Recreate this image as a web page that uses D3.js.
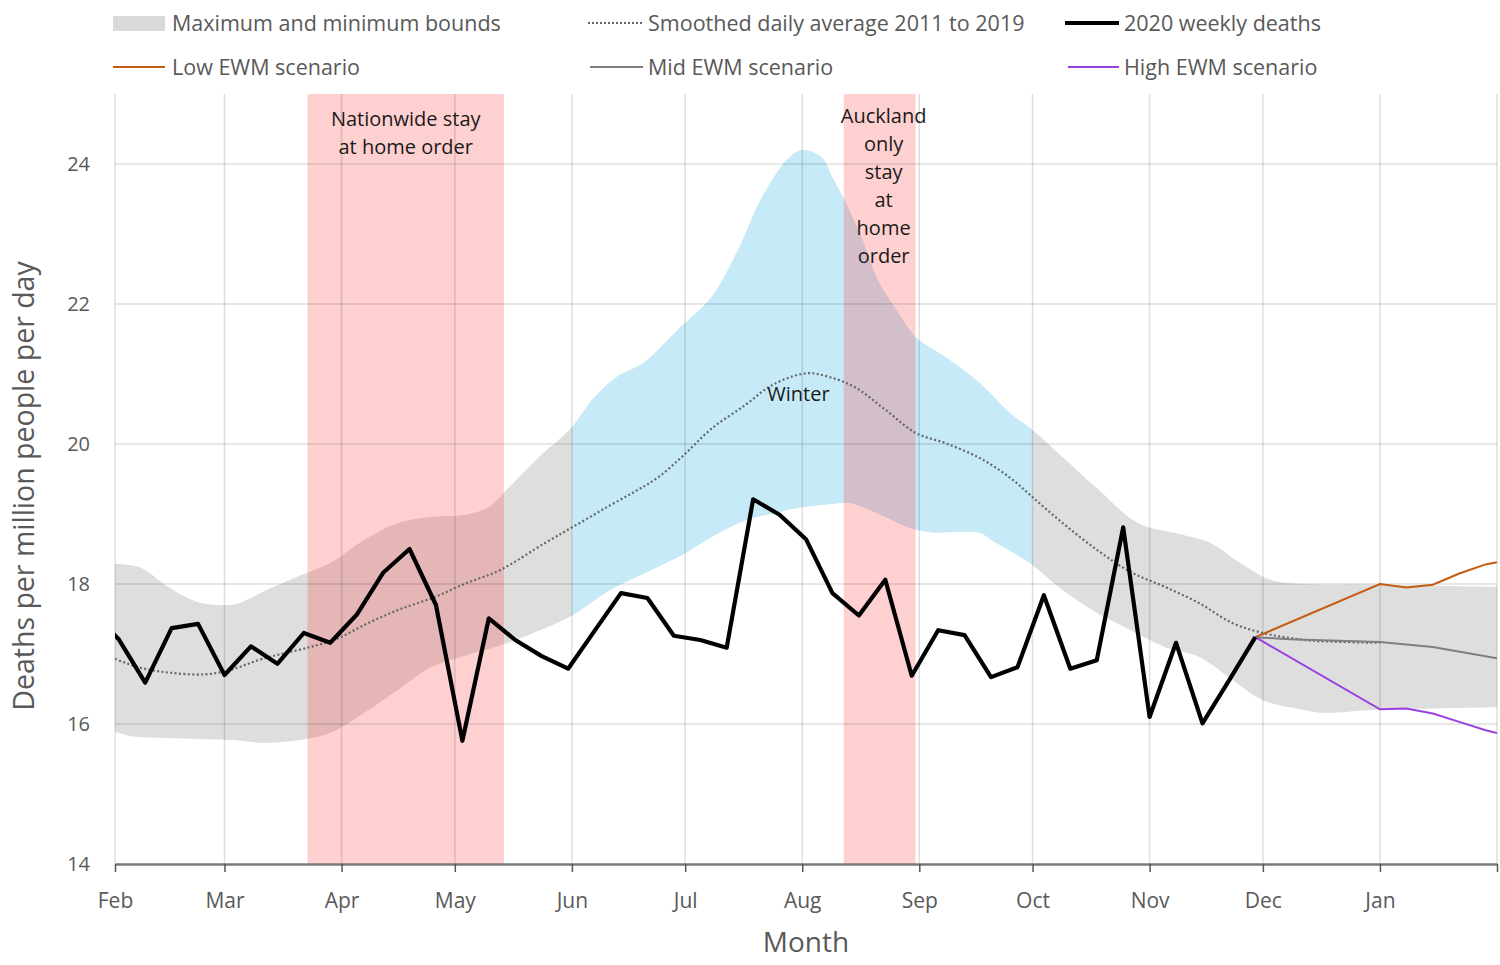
<!DOCTYPE html>
<html>
<head>
<meta charset="utf-8">
<script src="https://cdn.jsdelivr.net/npm/d3@7"></script>
<style>
  body { margin: 0; background: #fff; }
  svg text { font-family: "Open Sans", sans-serif; }
</style>
</head>
<body>
<svg id="chart" width="1500" height="965"></svg>
<script>
// ---- data ----
var monthLabels = ["Feb", "Mar", "Apr", "May", "Jun", "Jul", "Aug", "Sep", "Oct", "Nov", "Dec", "Jan", ""];
var yTicks = [14, 16, 18, 20, 22, 24];

// 2020 weekly deaths (per million people per day), week ending Sunday
var weekDates = ["2020-01-26", "2020-02-02", "2020-02-09", "2020-02-16", "2020-02-23", "2020-03-01", "2020-03-08",
  "2020-03-15", "2020-03-22", "2020-03-29", "2020-04-05", "2020-04-12", "2020-04-19", "2020-04-26", "2020-05-03",
  "2020-05-10", "2020-05-17", "2020-05-24", "2020-05-31", "2020-06-07", "2020-06-14", "2020-06-21", "2020-06-28",
  "2020-07-05", "2020-07-12", "2020-07-19", "2020-07-26", "2020-08-02", "2020-08-09", "2020-08-16", "2020-08-23",
  "2020-08-30", "2020-09-06", "2020-09-13", "2020-09-20", "2020-09-27", "2020-10-04", "2020-10-11", "2020-10-18",
  "2020-10-25", "2020-11-01", "2020-11-08", "2020-11-15", "2020-11-22", "2020-11-29"];
var weekDeaths = [17.6, 17.21, 16.59, 17.37, 17.43, 16.70, 17.11,
  16.86, 17.30, 17.16, 17.56, 18.16, 18.50, 17.70, 15.76,
  17.51, 17.20, 16.97, 16.79, 17.33, 17.87, 17.80, 17.26,
  17.20, 17.09, 19.21, 18.99, 18.64, 17.87, 17.55, 18.06,
  16.69, 17.34, 17.27, 16.67, 16.81, 17.84, 16.79, 16.91,
  18.81, 16.10, 17.16, 16.01, 16.62, 17.24];

// smoothed daily average 2011 to 2019
var smoothDates = ["2020-02-01", "2020-02-08", "2020-02-16", "2020-02-25", "2020-03-03", "2020-03-11", "2020-03-23",
  "2020-03-30", "2020-04-08", "2020-04-16", "2020-04-25", "2020-05-04", "2020-05-13", "2020-05-25", "2020-06-03",
  "2020-06-11", "2020-06-18", "2020-06-24", "2020-07-01", "2020-07-08", "2020-07-17", "2020-07-24", "2020-08-02",
  "2020-08-08", "2020-08-15", "2020-08-23", "2020-08-31", "2020-09-08", "2020-09-17", "2020-09-25", "2020-10-01",
  "2020-10-09", "2020-10-18", "2020-10-27", "2020-11-05", "2020-11-14", "2020-11-23", "2020-12-01", "2020-12-08",
  "2020-12-14", "2021-01-01"];
var smoothAvg = [16.93, 16.80, 16.73, 16.71, 16.78, 16.93, 17.09,
  17.20, 17.44, 17.63, 17.80, 18.01, 18.20, 18.59, 18.87,
  19.12, 19.33, 19.53, 19.86, 20.22, 20.56, 20.84, 21.01,
  20.96, 20.81, 20.49, 20.16, 20.01, 19.80, 19.52, 19.24,
  18.87, 18.49, 18.17, 17.96, 17.73, 17.44, 17.30, 17.23,
  17.19, 17.16];

// maximum bound
var upperDates = ["2020-02-01", "2020-02-08", "2020-02-15", "2020-02-23", "2020-03-01", "2020-03-05", "2020-03-12",
  "2020-03-20", "2020-03-29", "2020-04-07", "2020-04-16", "2020-04-25", "2020-05-04", "2020-05-10", "2020-05-15",
  "2020-05-23", "2020-06-01", "2020-06-07", "2020-06-13", "2020-06-20", "2020-06-29", "2020-07-08", "2020-07-15",
  "2020-07-21", "2020-07-28", "2020-08-01", "2020-08-06", "2020-08-09", "2020-08-13", "2020-08-17", "2020-08-21",
  "2020-08-26", "2020-08-31", "2020-09-08", "2020-09-17", "2020-09-25", "2020-10-01", "2020-10-09", "2020-10-18",
  "2020-10-29", "2020-11-10", "2020-11-17", "2020-11-25", "2020-12-03", "2020-12-12", "2020-12-30", "2021-02-01"];
var upperBound = [18.29, 18.23, 17.96, 17.74, 17.70, 17.73, 17.91,
  18.10, 18.30, 18.63, 18.87, 18.96, 18.99, 19.10, 19.36,
  19.80, 20.24, 20.67, 20.96, 21.16, 21.63, 22.10, 22.77,
  23.49, 24.06, 24.20, 24.10, 23.81, 23.39, 22.91, 22.34,
  21.91, 21.53, 21.24, 20.87, 20.44, 20.20, 19.81, 19.37,
  18.87, 18.70, 18.59, 18.30, 18.06, 18.00, 17.99, 17.96];

// minimum bound
var lowerDates = ["2020-02-01", "2020-02-06", "2020-02-15", "2020-03-03", "2020-03-12", "2020-03-23", "2020-03-29",
  "2020-04-07", "2020-04-16", "2020-04-25", "2020-05-04", "2020-05-13", "2020-05-25", "2020-06-01", "2020-06-11",
  "2020-06-22", "2020-07-01", "2020-07-08", "2020-07-17", "2020-07-26", "2020-08-01", "2020-08-08", "2020-08-13",
  "2020-08-17", "2020-08-23", "2020-08-29", "2020-09-04", "2020-09-17", "2020-09-21", "2020-09-30", "2020-10-09",
  "2020-10-18", "2020-10-27", "2020-11-05", "2020-11-14", "2020-11-23", "2020-12-01", "2020-12-12", "2020-12-17",
  "2020-12-30", "2021-02-01"];
var lowerBound = [15.89, 15.82, 15.80, 15.77, 15.73, 15.79, 15.87,
  16.16, 16.49, 16.82, 16.98, 17.12, 17.37, 17.55, 17.91,
  18.20, 18.44, 18.67, 18.91, 19.03, 19.10, 19.14, 19.16,
  19.10, 18.96, 18.81, 18.74, 18.73, 18.60, 18.31, 17.91,
  17.59, 17.34, 17.10, 16.96, 16.63, 16.34, 16.20, 16.16,
  16.20, 16.24];

// excess winter mortality scenarios
var lowDates = ["2020-11-29", "2021-01-01", "2021-01-08", "2021-01-15", "2021-01-22", "2021-01-29", "2021-02-01"];
var lowEWM = [17.24, 18.00, 17.95, 17.99, 18.15, 18.28, 18.31];
var midDates = ["2020-11-29", "2020-12-08", "2021-01-01", "2021-01-15", "2021-02-01"];
var midEWM = [17.24, 17.21, 17.17, 17.10, 16.94];
var highDates = ["2020-11-29", "2021-01-01", "2021-01-08", "2021-01-15", "2021-01-22", "2021-01-29", "2021-02-01"];
var highEWM = [17.24, 16.21, 16.22, 16.15, 16.03, 15.91, 15.87];

// stay at home orders and winter
var orderStart = ["2020-03-23", "2020-08-12"];
var orderEnd = ["2020-05-14", "2020-08-31"];
var orderLabels = [["Nationwide stay", "at home order"], ["Auckland", "only", "stay", "at", "home", "order"]];
var winterStart = "2020-06-01", winterEnd = "2020-10-01";

// ---- drawing ----
var parseDate = d3.utcParse("%Y-%m-%d");
var svg = d3.select("#chart");

var x = d3.scaleUtc()
  .domain([parseDate("2020-02-01"), parseDate("2021-02-01")])
  .range([115, 1497]);
var y = d3.scaleLinear()
  .domain([14, 25])
  .range([864, 94]);

function pairs(dates, vals) {
  return dates.map(function(d, i) { return [parseDate(d), vals[i]]; });
}

var line = d3.line()
  .x(function(d) { return x(d[0]); })
  .y(function(d) { return y(d[1]); });
var smoothLine = d3.line()
  .curve(d3.curveCatmullRom.alpha(0.5))
  .x(function(d) { return x(d[0]); })
  .y(function(d) { return y(d[1]); });

svg.append("defs").append("clipPath").attr("id", "plot")
  .append("rect")
  .attr("x", x.range()[0]).attr("y", y(25))
  .attr("width", x.range()[1] - x.range()[0]).attr("height", y(14) - y(25));
svg.select("defs").append("clipPath").attr("id", "winter")
  .append("rect")
  .attr("x", x(parseDate(winterStart))).attr("y", y(25))
  .attr("width", x(parseDate(winterEnd)) - x(parseDate(winterStart)))
  .attr("height", y(14) - y(25));

// band = upper edge forward + lower edge backward
var upperPts = pairs(upperDates, upperBound);
var lowerPts = pairs(lowerDates, lowerBound).reverse();
var bandPath = smoothLine(upperPts) + "L" + smoothLine(lowerPts).slice(1) + "Z";

svg.append("path").attr("d", bandPath).attr("fill", "#dedede");
svg.append("path").attr("d", bandPath).attr("fill", "#c6eaf7").attr("clip-path", "url(#winter)");

// stay at home orders
svg.selectAll("rect.order")
  .data(orderStart)
  .enter().append("rect")
  .attr("class", "order")
  .attr("x", function(d) { return x(parseDate(d)); })
  .attr("y", y(25))
  .attr("width", function(d, i) { return x(parseDate(orderEnd[i])) - x(parseDate(d)); })
  .attr("height", y(14) - y(25))
  .attr("fill", "rgba(255, 40, 40, 0.22)");

// gridlines
var monthTicks = d3.utcMonth.range(parseDate("2020-02-01"), parseDate("2021-02-02"));
svg.append("g").selectAll("line")
  .data(monthTicks)
  .enter().append("line")
  .attr("x1", function(d) { return x(d); }).attr("x2", function(d) { return x(d); })
  .attr("y1", y(25)).attr("y2", y(14))
  .attr("stroke", "rgba(0,0,0,0.13)").attr("stroke-width", 1.5);
svg.append("g").selectAll("line")
  .data(yTicks.slice(1))
  .enter().append("line")
  .attr("x1", x.range()[0]).attr("x2", x.range()[1])
  .attr("y1", function(d) { return y(d); }).attr("y2", function(d) { return y(d); })
  .attr("stroke", "rgba(0,0,0,0.13)").attr("stroke-width", 1.5);

// x axis
var xAxis = svg.append("g")
  .attr("transform", "translate(0," + y(14) + ")")
  .call(d3.axisBottom(x).tickValues(monthTicks)
    .tickFormat(function(d, i) { return monthLabels[i]; })
    .tickSize(8).tickSizeOuter(0));
xAxis.select(".domain").attr("stroke", "#7a7a7a").attr("stroke-width", 2.5);
xAxis.selectAll(".tick line").attr("stroke", "#555").attr("stroke-width", 1.5);
xAxis.selectAll(".tick text")
  .attr("y", 29).attr("fill", "#595959")
  .style("font-size", "21px").style("font-family", "'Open Sans', sans-serif");

// y tick labels
svg.append("g").selectAll("text")
  .data(yTicks)
  .enter().append("text")
  .attr("x", 90).attr("y", function(d) { return y(d) + 7; })
  .attr("text-anchor", "end").attr("fill", "#595959")
  .style("font-size", "20px")
  .text(function(d) { return d; });

// axis titles
svg.append("text")
  .attr("x", 806).attr("y", 952)
  .attr("text-anchor", "middle").attr("fill", "#595959")
  .style("font-size", "28px")
  .text("Month");
svg.append("text")
  .attr("transform", "translate(34," + ((y(14) + y(25)) / 2 + 7) + ") rotate(-90)")
  .attr("text-anchor", "middle").attr("fill", "#595959")
  .style("font-size", "28.5px")
  .text("Deaths per million people per day");

// lines, clipped to the plot
var lines = svg.append("g").attr("clip-path", "url(#plot)");
lines.append("path")
  .attr("d", smoothLine(pairs(smoothDates, smoothAvg)))
  .attr("fill", "none").attr("stroke", "#666")
  .attr("stroke-width", 2.2).attr("stroke-dasharray", "2,2.4");
lines.append("path")
  .attr("d", line(pairs(midDates, midEWM)))
  .attr("fill", "none").attr("stroke", "#7f7f7f").attr("stroke-width", 2);
lines.append("path")
  .attr("d", line(pairs(lowDates, lowEWM)))
  .attr("fill", "none").attr("stroke", "#c55a11").attr("stroke-width", 2);
lines.append("path")
  .attr("d", line(pairs(highDates, highEWM)))
  .attr("fill", "none").attr("stroke", "#9b3fe0").attr("stroke-width", 2);
lines.append("path")
  .attr("d", line(pairs(weekDates, weekDeaths)))
  .attr("fill", "none").attr("stroke", "#000")
  .attr("stroke-width", 4.2).attr("stroke-linejoin", "round");

// annotations
orderLabels.forEach(function(lbl, k) {
  var cx = (x(parseDate(orderStart[k])) + x(parseDate(orderEnd[k]))) / 2 + (k == 1 ? 4 : 0);
  var top = k == 0 ? 126 : 123;
  svg.append("g").selectAll("text")
    .data(lbl)
    .enter().append("text")
    .attr("x", cx).attr("y", function(d, i) { return top + i * 28; })
    .attr("text-anchor", "middle").attr("fill", "#1a1a1a")
    .style("font-size", "20px")
    .text(function(d) { return d; });
});
svg.append("text")
  .attr("x", x(parseDate("2020-07-31"))).attr("y", y(20.62))
  .attr("text-anchor", "middle").attr("fill", "#1a1a1a")
  .style("font-size", "20px")
  .text("Winter");

// legend
var legend = svg.append("g").style("font-size", "21.5px");
legend.append("rect").attr("x", 113).attr("y", 16).attr("width", 52).attr("height", 15).attr("fill", "#d9d9d9");
legend.append("line").attr("x1", 588).attr("x2", 643).attr("y1", 23).attr("y2", 23)
  .attr("stroke", "#666").attr("stroke-width", 2).attr("stroke-dasharray", "2,2");
legend.append("line").attr("x1", 1065).attr("x2", 1119).attr("y1", 23).attr("y2", 23)
  .attr("stroke", "#000").attr("stroke-width", 4);
legend.append("line").attr("x1", 113).attr("x2", 165).attr("y1", 67).attr("y2", 67)
  .attr("stroke", "#c55a11").attr("stroke-width", 2);
legend.append("line").attr("x1", 590).attr("x2", 643).attr("y1", 67).attr("y2", 67)
  .attr("stroke", "#7f7f7f").attr("stroke-width", 2);
legend.append("line").attr("x1", 1068).attr("x2", 1119).attr("y1", 67).attr("y2", 67)
  .attr("stroke", "#9b3fe0").attr("stroke-width", 2);

var legendText = [
  [172, 31, "Maximum and minimum bounds"],
  [648, 31, "Smoothed daily average 2011 to 2019"],
  [1124, 31, "2020 weekly deaths"],
  [172, 75, "Low EWM scenario"],
  [648, 75, "Mid EWM scenario"],
  [1124, 75, "High EWM scenario"]
];
legend.selectAll("text")
  .data(legendText)
  .enter().append("text")
  .attr("x", function(d) { return d[0]; })
  .attr("y", function(d) { return d[1]; })
  .attr("fill", "#595959")
  .text(function(d) { return d[2]; });
</script>
</body>
</html>
